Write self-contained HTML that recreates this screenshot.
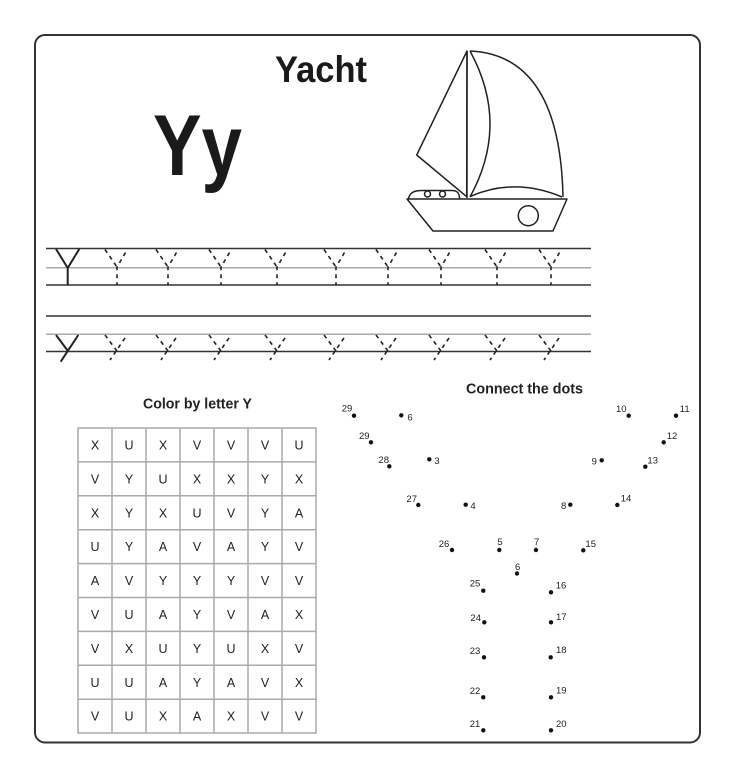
<!DOCTYPE html>
<html><head><meta charset="utf-8"><style>
html,body{margin:0;padding:0;background:#fff;}
svg{display:block;}
text{font-family:"Liberation Sans",sans-serif;}
</style></head><body>
<svg width="735" height="778" viewBox="0 0 735 778" xmlns="http://www.w3.org/2000/svg">
<rect x="0" y="0" width="735" height="778" fill="#fff"/>
<rect x="35" y="35" width="665" height="707.5" rx="10" ry="10" fill="none" stroke="#333" stroke-width="2"/>

<text x="275" y="82" font-size="37" font-weight="bold" fill="#1a1a1a" textLength="92" lengthAdjust="spacingAndGlyphs">Yacht</text>
<text x="153" y="175" font-size="86" font-weight="bold" fill="#1a1a1a" textLength="89" lengthAdjust="spacingAndGlyphs">Yy</text>

<!-- boat -->
<g fill="none" stroke="#222" stroke-width="1.5" stroke-linejoin="round">
<polygon points="467,51 416.7,155 466.7,196.7"/>
<line x1="467" y1="51" x2="467" y2="198"/>
<path d="M470,51 Q560,55 563,197"/>
<path d="M470,51 Q510,124 470,197"/>
<path d="M470,196.5 Q515,177 562,197"/>
<polygon points="407,199 567,199 553,231 433,231"/>
<path d="M408.5,198.5 C410,192 415,190.5 422,190.5 L452,190.5 C458,190.5 459.5,194 459.5,198.5"/>
<circle cx="427.5" cy="194" r="3"/>
<circle cx="442.5" cy="194" r="3"/>
<circle cx="528.3" cy="215.7" r="10"/>
</g>

<!-- ruled lines -->
<g stroke-width="1.5">
<line x1="46" y1="248.5" x2="591" y2="248.5" stroke="#333"/>
<line x1="46" y1="267.7" x2="591" y2="267.7" stroke="#aaa"/>
<line x1="46" y1="285" x2="591" y2="285" stroke="#333"/>
<line x1="46" y1="316" x2="591" y2="316" stroke="#333"/>
<line x1="46" y1="334.3" x2="591" y2="334.3" stroke="#aaa"/>
<line x1="46" y1="351.5" x2="591" y2="351.5" stroke="#333"/>
</g>

<!-- solid letters -->
<g fill="none" stroke="#222" stroke-width="2">
<path d="M56,249 L67.7,268 L79.3,249 M67.7,268 L67.7,285"/>
<path d="M56,335 L68.3,351.5 M78.3,335 L60.7,361.7"/>
</g>

<!-- dashed letters -->
<g fill="none" stroke="#222" stroke-width="1.6" stroke-dasharray="4 4">
<g transform="translate(117,0)"><path d="M-12,249.5 L0,267"/><path d="M8.5,252.5 L0,267 L0,285"/><path d="M-12,335 L0,351"/><path d="M8,338 L-7,360"/></g>
<g transform="translate(168,0)"><path d="M-12,249.5 L0,267"/><path d="M8.5,252.5 L0,267 L0,285"/><path d="M-12,335 L0,351"/><path d="M8,338 L-7,360"/></g>
<g transform="translate(221,0)"><path d="M-12,249.5 L0,267"/><path d="M8.5,252.5 L0,267 L0,285"/><path d="M-12,335 L0,351"/><path d="M8,338 L-7,360"/></g>
<g transform="translate(277,0)"><path d="M-12,249.5 L0,267"/><path d="M8.5,252.5 L0,267 L0,285"/><path d="M-12,335 L0,351"/><path d="M8,338 L-7,360"/></g>
<g transform="translate(336,0)"><path d="M-12,249.5 L0,267"/><path d="M8.5,252.5 L0,267 L0,285"/><path d="M-12,335 L0,351"/><path d="M8,338 L-7,360"/></g>
<g transform="translate(388,0)"><path d="M-12,249.5 L0,267"/><path d="M8.5,252.5 L0,267 L0,285"/><path d="M-12,335 L0,351"/><path d="M8,338 L-7,360"/></g>
<g transform="translate(441,0)"><path d="M-12,249.5 L0,267"/><path d="M8.5,252.5 L0,267 L0,285"/><path d="M-12,335 L0,351"/><path d="M8,338 L-7,360"/></g>
<g transform="translate(497,0)"><path d="M-12,249.5 L0,267"/><path d="M8.5,252.5 L0,267 L0,285"/><path d="M-12,335 L0,351"/><path d="M8,338 L-7,360"/></g>
<g transform="translate(551,0)"><path d="M-12,249.5 L0,267"/><path d="M8.5,252.5 L0,267 L0,285"/><path d="M-12,335 L0,351"/><path d="M8,338 L-7,360"/></g>
</g>

<!-- headings -->
<text x="143" y="408.5" font-size="14.5" font-weight="bold" fill="#222" textLength="109" lengthAdjust="spacingAndGlyphs">Color by letter Y</text>
<text x="466" y="393.5" font-size="14.5" font-weight="bold" fill="#222" textLength="117" lengthAdjust="spacingAndGlyphs">Connect the dots</text>

<!-- grid -->
<g stroke="#aaa" stroke-width="1.5" fill="none">
<rect x="78" y="428" width="238" height="305"/>
<line x1="112" y1="428" x2="112" y2="733"/>
<line x1="146" y1="428" x2="146" y2="733"/>
<line x1="180" y1="428" x2="180" y2="733"/>
<line x1="214" y1="428" x2="214" y2="733"/>
<line x1="248" y1="428" x2="248" y2="733"/>
<line x1="282" y1="428" x2="282" y2="733"/>
<line x1="78" y1="461.9" x2="316" y2="461.9"/>
<line x1="78" y1="495.8" x2="316" y2="495.8"/>
<line x1="78" y1="529.7" x2="316" y2="529.7"/>
<line x1="78" y1="563.6" x2="316" y2="563.6"/>
<line x1="78" y1="597.5" x2="316" y2="597.5"/>
<line x1="78" y1="631.4" x2="316" y2="631.4"/>
<line x1="78" y1="665.3" x2="316" y2="665.3"/>
<line x1="78" y1="699.2" x2="316" y2="699.2"/>
</g>
<g font-size="12.5" fill="#222" text-anchor="middle">
<text x="95" y="449.5">X</text><text x="129" y="449.5">U</text><text x="163" y="449.5">X</text><text x="197" y="449.5">V</text><text x="231" y="449.5">V</text><text x="265" y="449.5">V</text><text x="299" y="449.5">U</text>
<text x="95" y="483.4">V</text><text x="129" y="483.4">Y</text><text x="163" y="483.4">U</text><text x="197" y="483.4">X</text><text x="231" y="483.4">X</text><text x="265" y="483.4">Y</text><text x="299" y="483.4">X</text>
<text x="95" y="517.3">X</text><text x="129" y="517.3">Y</text><text x="163" y="517.3">X</text><text x="197" y="517.3">U</text><text x="231" y="517.3">V</text><text x="265" y="517.3">Y</text><text x="299" y="517.3">A</text>
<text x="95" y="551.2">U</text><text x="129" y="551.2">Y</text><text x="163" y="551.2">A</text><text x="197" y="551.2">V</text><text x="231" y="551.2">A</text><text x="265" y="551.2">Y</text><text x="299" y="551.2">V</text>
<text x="95" y="585.1">A</text><text x="129" y="585.1">V</text><text x="163" y="585.1">Y</text><text x="197" y="585.1">Y</text><text x="231" y="585.1">Y</text><text x="265" y="585.1">V</text><text x="299" y="585.1">V</text>
<text x="95" y="619">V</text><text x="129" y="619">U</text><text x="163" y="619">A</text><text x="197" y="619">Y</text><text x="231" y="619">V</text><text x="265" y="619">A</text><text x="299" y="619">X</text>
<text x="95" y="652.9">V</text><text x="129" y="652.9">X</text><text x="163" y="652.9">U</text><text x="197" y="652.9">Y</text><text x="231" y="652.9">U</text><text x="265" y="652.9">X</text><text x="299" y="652.9">V</text>
<text x="95" y="686.8">U</text><text x="129" y="686.8">U</text><text x="163" y="686.8">A</text><text x="197" y="686.8">Y</text><text x="231" y="686.8">A</text><text x="265" y="686.8">V</text><text x="299" y="686.8">X</text>
<text x="95" y="720.7">V</text><text x="129" y="720.7">U</text><text x="163" y="720.7">X</text><text x="197" y="720.7">A</text><text x="231" y="720.7">X</text><text x="265" y="720.7">V</text><text x="299" y="720.7">V</text>
</g>

<!-- dots -->
<g fill="#111">
<circle cx="354" cy="415.7" r="2.2"/>
<circle cx="401.3" cy="415.3" r="2.2"/>
<circle cx="371" cy="442.3" r="2.2"/>
<circle cx="389.3" cy="466.3" r="2.2"/>
<circle cx="429.3" cy="459.3" r="2.2"/>
<circle cx="418.3" cy="505" r="2.2"/>
<circle cx="465.7" cy="504.7" r="2.2"/>
<circle cx="570.3" cy="504.7" r="2.2"/>
<circle cx="452" cy="550" r="2.2"/>
<circle cx="499.3" cy="550" r="2.2"/>
<circle cx="536" cy="550" r="2.2"/>
<circle cx="517" cy="573.5" r="2.2"/>
<circle cx="583.3" cy="550.3" r="2.2"/>
<circle cx="628.7" cy="415.7" r="2.2"/>
<circle cx="676" cy="415.7" r="2.2"/>
<circle cx="663.7" cy="442.3" r="2.2"/>
<circle cx="601.7" cy="460.3" r="2.2"/>
<circle cx="645.3" cy="466.7" r="2.2"/>
<circle cx="617.3" cy="505" r="2.2"/>
<circle cx="483.3" cy="590.7" r="2.2"/>
<circle cx="551" cy="592.3" r="2.2"/>
<circle cx="484.3" cy="622.3" r="2.2"/>
<circle cx="551" cy="622.3" r="2.2"/>
<circle cx="484" cy="657.3" r="2.2"/>
<circle cx="550.7" cy="657.3" r="2.2"/>
<circle cx="483.3" cy="697.3" r="2.2"/>
<circle cx="551" cy="697.3" r="2.2"/>
<circle cx="483.3" cy="730.3" r="2.2"/>
<circle cx="551" cy="730.3" r="2.2"/>
</g>
<g font-size="9.5" fill="#222" text-anchor="middle">
<text x="347" y="411.5">29</text>
<text x="410" y="420.5">6</text>
<text x="364.3" y="439.2">29</text>
<text x="383.7" y="463.2">28</text>
<text x="437" y="464.2">3</text>
<text x="411.7" y="501.8">27</text>
<text x="473" y="509.2">4</text>
<text x="563.7" y="509.2">8</text>
<text x="444" y="546.8">26</text>
<text x="500" y="545.2">5</text>
<text x="536.7" y="545.2">7</text>
<text x="517.7" y="570.2">6</text>
<text x="590.7" y="547.2">15</text>
<text x="621.3" y="412.2">10</text>
<text x="684.7" y="412.2">11</text>
<text x="672" y="439.2">12</text>
<text x="594.3" y="464.5">9</text>
<text x="652.7" y="463.5">13</text>
<text x="626" y="501.5">14</text>
<text x="475" y="586.5">25</text>
<text x="561" y="588.5">16</text>
<text x="475.7" y="621.2">24</text>
<text x="561.3" y="619.8">17</text>
<text x="475" y="653.8">23</text>
<text x="561.3" y="652.8">18</text>
<text x="475" y="694.2">22</text>
<text x="561.3" y="693.5">19</text>
<text x="475" y="726.8">21</text>
<text x="561.3" y="726.8">20</text>
</g>
</svg>
</body></html>
